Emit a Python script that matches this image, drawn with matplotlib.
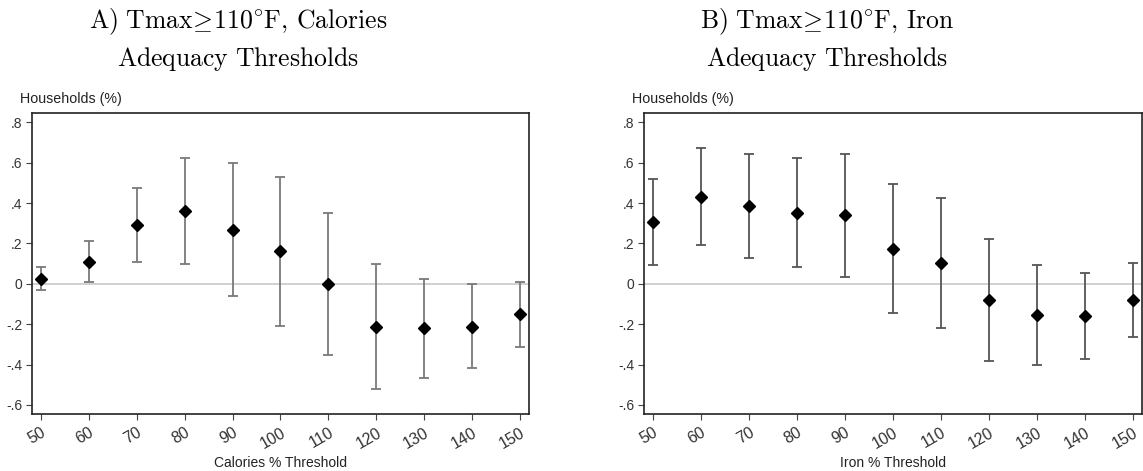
import matplotlib
matplotlib.use("Agg")
import matplotlib.pyplot as plt
import numpy as np

thresholds = [50, 60, 70, 80, 90, 100, 110, 120, 130, 140, 150]

# A) calories
cal_est = [0.026, 0.110, 0.290, 0.362, 0.268, 0.160, 0.000, -0.213, -0.221, -0.213, -0.152]
cal_lo = [-0.030, 0.010, 0.109, 0.100, -0.059, -0.208, -0.353, -0.521, -0.465, -0.419, -0.312]
cal_hi = [0.083, 0.212, 0.475, 0.625, 0.597, 0.527, 0.349, 0.097, 0.026, 0.000, 0.010]

# B) iron
iron_est = [0.304, 0.430, 0.385, 0.352, 0.339, 0.174, 0.103, -0.081, -0.157, -0.162, -0.081]
iron_lo = [0.094, 0.190, 0.129, 0.081, 0.036, -0.145, -0.218, -0.381, -0.404, -0.373, -0.264]
iron_hi = [0.519, 0.671, 0.645, 0.625, 0.645, 0.494, 0.427, 0.223, 0.093, 0.052, 0.103]

y_ticks = [-0.6, -0.4, -0.2, 0, 0.2, 0.4, 0.6, 0.8]
y_labels = ["-.6", "-.4", "-.2", "0", ".2", ".4", ".6", ".8"]

titles = [
    "$\\mathrm{A)\\ Tmax}\\!\\geq\\!\\mathrm{110^{\\circ}F,\\,Calories}$\n$\\mathrm{Adequacy\\ Thresholds}$",
    "$\\mathrm{B)\\ Tmax}\\!\\geq\\!\\mathrm{110^{\\circ}F,\\,Iron}$\n$\\mathrm{Adequacy\\ Thresholds}$",
]
xlabels = ["Calories % Threshold", "Iron % Threshold"]

plt.rcParams["font.family"] = ["Liberation Sans", "DejaVu Sans"]
plt.rcParams["mathtext.fontset"] = "cm"

W, H = 1143, 471
fig = plt.figure(figsize=(W / 100, H / 100), dpi=100)

panels = [
    (cal_est, cal_lo, cal_hi, 32, 497, 238, "#7a7a7a"),
    (iron_est, iron_lo, iron_hi, 644, 498, 827, "#555555"),
]

for i, (est, lo, hi, left, width, tcx, ecol) in enumerate(panels):
    ax = fig.add_axes([left / W, (H - 414) / H, width / W, 301 / H])
    est = np.array(est)
    err = [est - np.array(lo), np.array(hi) - est]
    ax.axhline(0, color="#c8c8c8", lw=1.2, zorder=1)
    ax.errorbar(thresholds, est, yerr=err, fmt="D", color="black", markersize=6.5,
                ecolor=ecol, elinewidth=1.3, capsize=3.3, capthick=1.3, zorder=3)
    ax.set_xlim(48.1, 151.9)
    ax.set_ylim(-0.645, 0.846)
    ax.set_yticks(y_ticks)
    ax.set_yticklabels(y_labels)
    ax.set_xticks(thresholds)
    ax.set_xticklabels([str(t) for t in thresholds], rotation=30, ha="right",
                       rotation_mode="anchor")
    ax.tick_params(axis="both", direction="out", length=4, width=0.8, color="#444444",
                   labelsize=10, labelcolor="#333333", pad=3)
    ax.tick_params(axis="x", labelsize=11.5, pad=4)
    for s in ax.spines.values():
        s.set_linewidth(1.2)
        s.set_color("#222222")
    ax.set_xlabel(xlabels[i], fontsize=10, color="#222222", labelpad=3)
    fig.text((left - 12) / W, 1 - 99 / H, "Households (%)", fontsize=10.3,
             color="#222222", va="center", ha="left")
    fig.text(tcx / W, 1 - 40 / H, titles[i], fontsize=18.5, ha="center", va="center",
             linespacing=1.4)

fig.savefig("out.png", dpi=100)
